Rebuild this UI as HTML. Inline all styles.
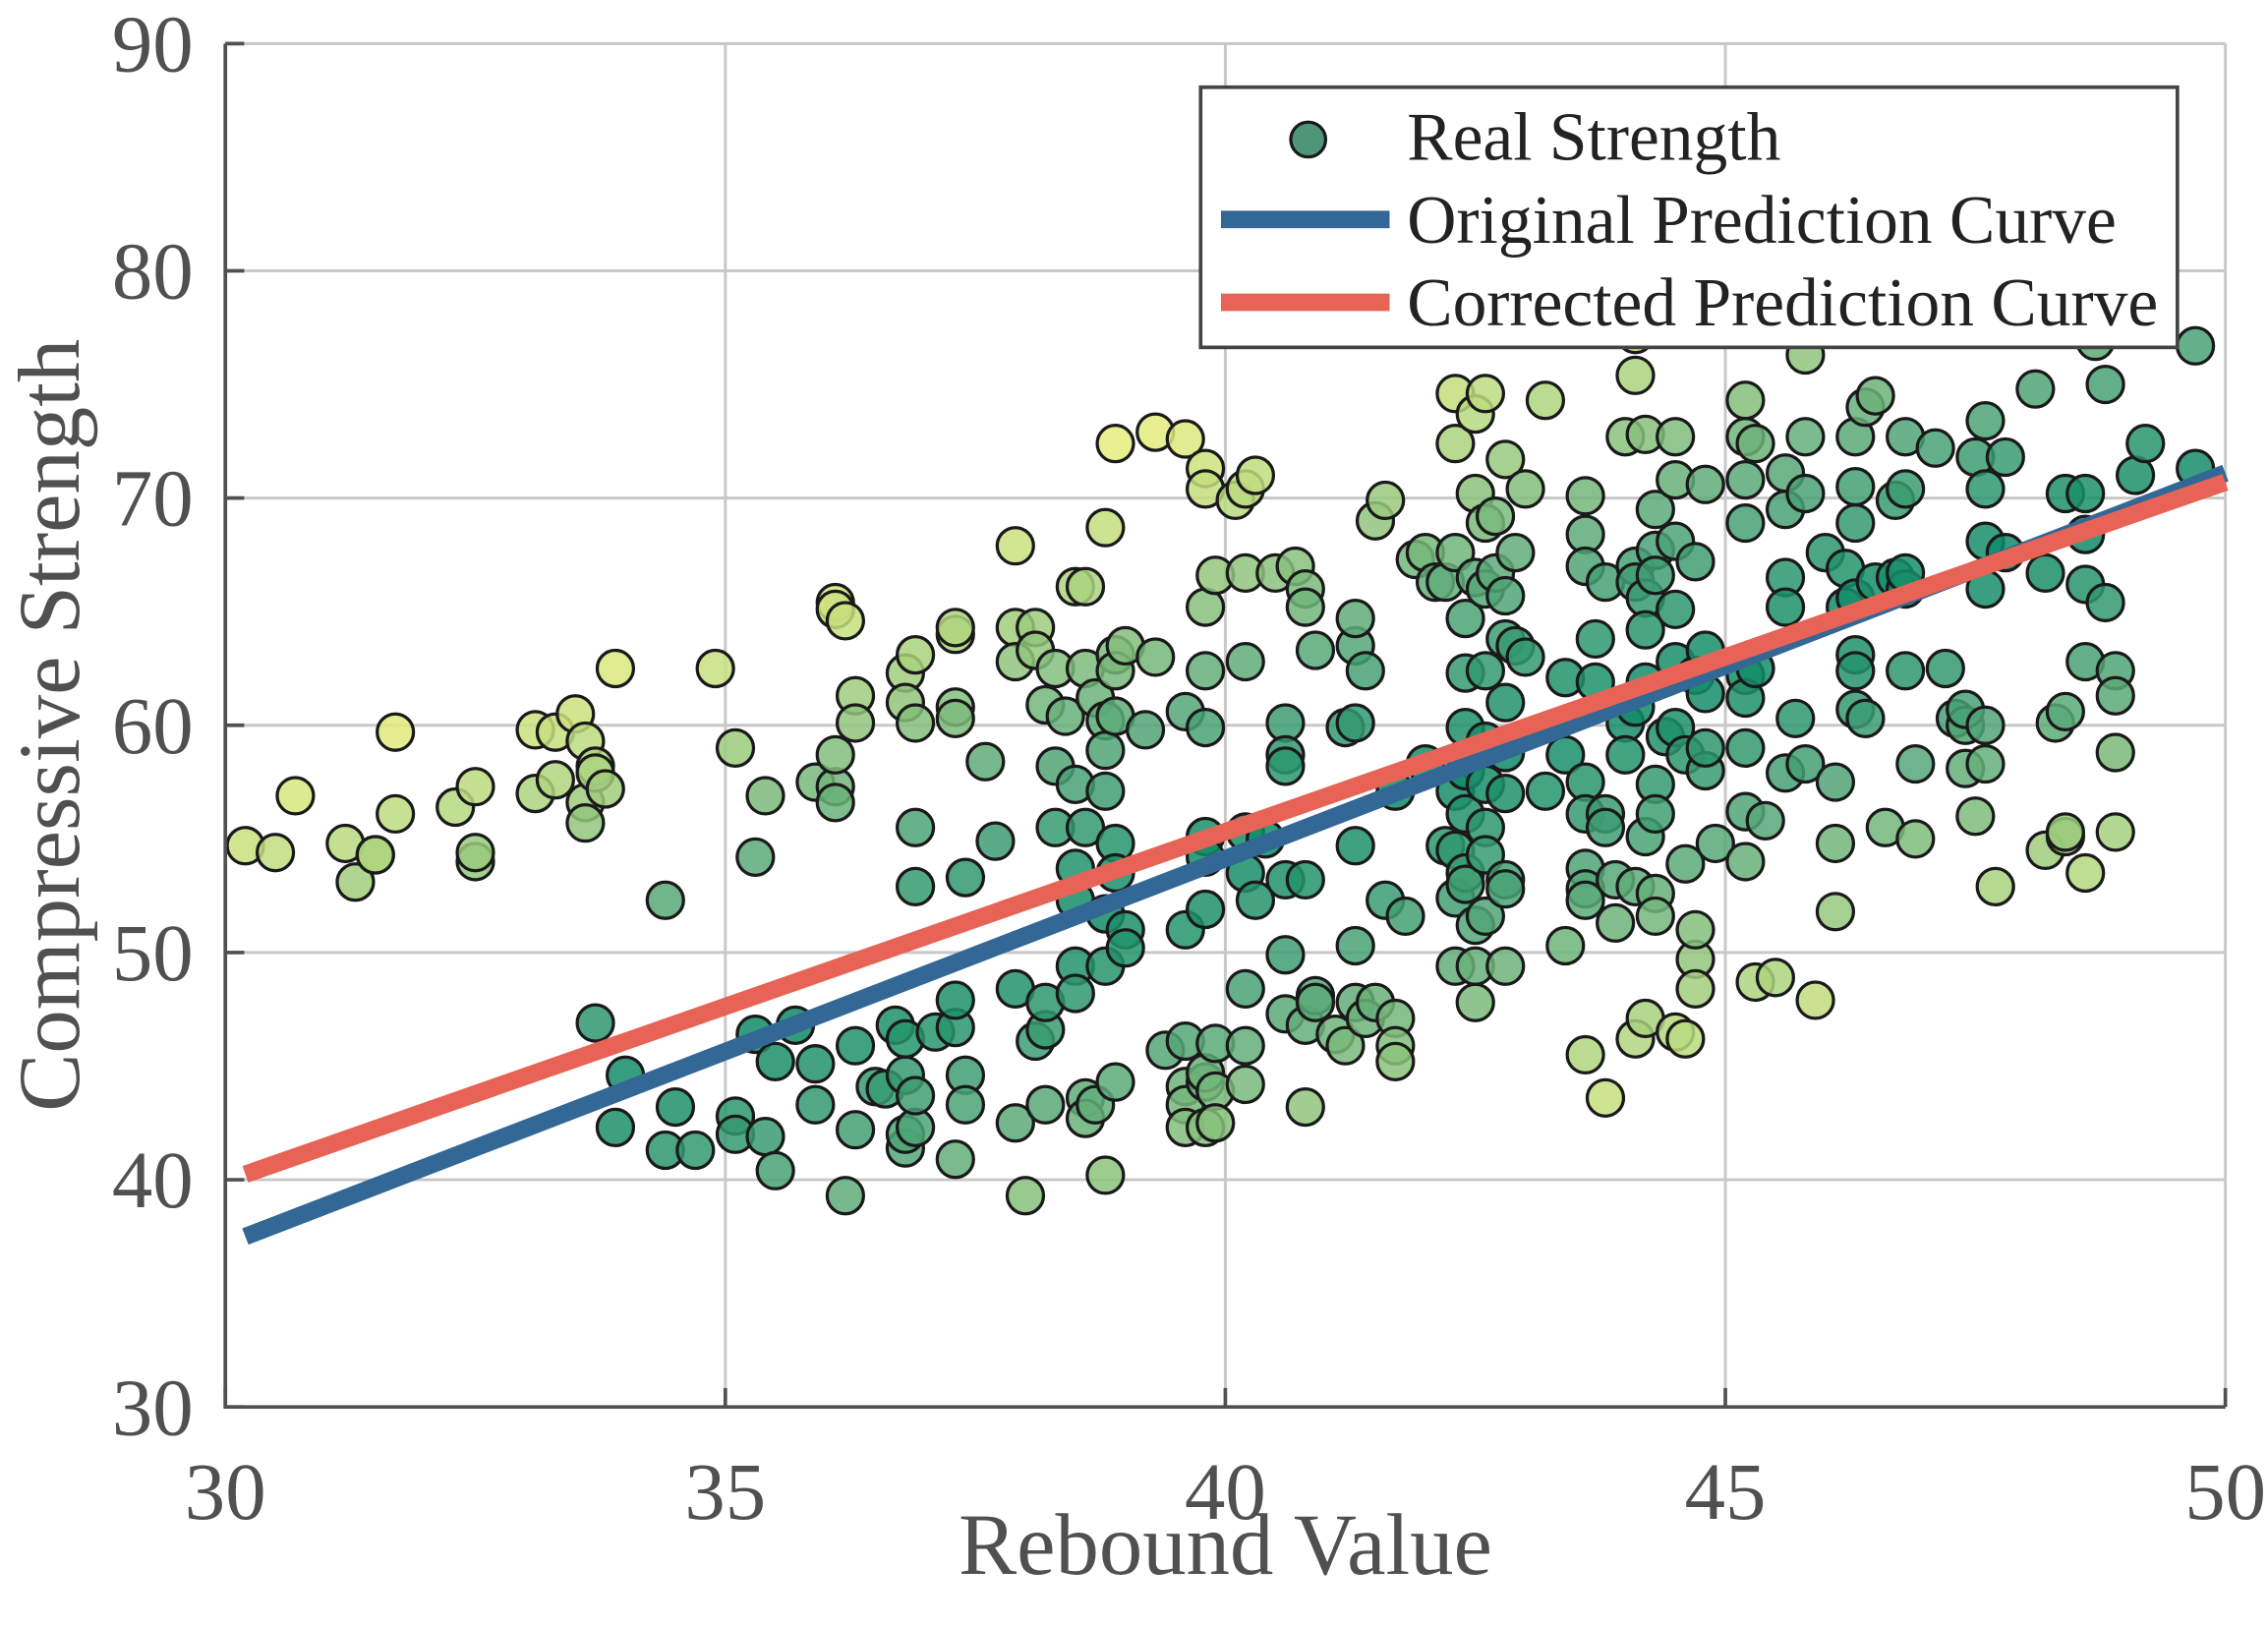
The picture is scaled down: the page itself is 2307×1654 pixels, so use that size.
<!DOCTYPE html>
<html><head><meta charset="utf-8"><style>html,body{margin:0;padding:0;background:#fff}svg{display:block}</style></head>
<body>
<svg id="chart" width="2307" height="1654" viewBox="0 0 1560.3 1118.7" xmlns="http://www.w3.org/2000/svg" font-family="'Liberation Serif', serif">
<g id="grid"></g>
<g id="points"></g>
<g id="lines"></g>
<g id="axes"></g>
<text x="843" y="1083" font-size="60" fill="#505050" text-anchor="middle">Rebound Value</text>
<text x="0" y="0" font-size="60" fill="#505050" text-anchor="middle" transform="translate(54,499) rotate(-90)">Compressive Strength</text>
<g>
<rect x="826" y="60" width="672" height="179" fill="#fff" stroke="#444" stroke-width="2.5"/>
<circle cx="900" cy="96" r="12" fill="#4f9578" stroke="#1a1a1a" stroke-width="2.2"/>
<line x1="840" y1="151" x2="956" y2="151" stroke="#336795" stroke-width="12"/>
<line x1="840" y1="208" x2="956" y2="208" stroke="#e76356" stroke-width="12"/>
<text x="968" y="110" font-size="47" fill="#222">Real Strength</text>
<text x="968" y="167" font-size="47" fill="#222">Original Prediction Curve</text>
<text x="968" y="224" font-size="47" fill="#222">Corrected Prediction Curve</text>
</g>
</svg>
<script>
const xTicks = [30, 35, 40, 45, 50];
const yTicks = [30, 40, 50, 60, 70, 80, 90];
const lineX = [30.2, 50];
const originalY = [37.5, 71.1];
const correctedY = [40.24, 70.7];
const pointX = [30.2,30.5,30.7,31.2,31.3,31.5,31.5,31.7,31.7,32.3,32.5,32.5,32.5,33.1,33.1,33.3,33.3,33.5,33.6,33.6,33.6,33.7,33.7,33.8,33.9,33.7,34.0,33.9,34.4,34.5,34.4,34.7,34.9,35.1,35.3,35.4,35.1,35.1,35.3,35.4,35.5,35.5,35.7,35.9,35.9,35.9,36.1,36.1,36.1,36.1,36.1,36.2,36.2,36.3,36.3,36.3,36.3,36.5,36.6,36.7,36.8,36.8,36.8,36.8,36.9,36.9,36.9,36.9,36.8,36.8,36.9,36.9,37.1,37.3,37.3,37.3,37.3,37.3,37.4,37.3,37.4,37.4,37.3,37.6,37.7,37.9,37.9,37.9,38.1,38.1,37.9,37.9,38.0,38.1,38.2,38.2,38.2,38.2,38.3,38.3,38.3,38.4,38.5,38.6,38.5,38.5,38.5,38.5,38.5,38.6,38.6,38.6,38.6,38.7,38.8,38.7,38.8,38.8,38.8,38.8,38.8,38.8,38.9,38.9,38.9,38.9,38.9,38.9,38.9,39.0,39.0,39.0,39.2,39.3,39.3,39.4,39.6,39.6,39.6,39.6,39.6,39.6,39.6,39.8,39.8,39.8,39.8,39.8,39.8,39.8,39.8,39.8,39.8,39.8,39.9,39.9,39.9,39.9,40.1,40.2,40.3,40.2,40.2,40.2,40.2,40.2,40.2,40.2,40.3,40.4,40.5,40.6,40.6,40.6,40.6,40.6,40.6,40.7,40.8,40.8,40.8,40.8,40.8,40.9,40.9,40.9,41.1,41.2,41.2,41.3,41.3,41.3,41.3,41.3,41.3,41.4,41.4,41.5,41.6,41.5,41.6,41.7,41.7,41.7,41.8,41.7,41.9,42.0,42.0,42.1,42.2,42.2,42.3,42.3,42.3,42.3,42.3,42.3,42.3,42.4,42.4,42.4,42.4,42.4,42.4,42.4,42.5,42.5,42.5,42.5,42.5,42.5,42.6,42.6,42.6,42.6,42.6,42.6,42.6,42.6,42.6,42.7,42.7,42.8,42.8,42.8,42.8,42.8,42.8,42.8,42.8,42.8,42.9,42.9,43.0,43.0,43.2,43.2,43.4,43.4,43.4,43.6,43.6,43.6,43.6,43.6,43.6,43.6,43.6,43.6,43.7,43.7,43.8,43.8,43.8,43.8,43.9,43.9,44.0,44.0,44.0,44.1,44.1,44.1,44.1,44.1,44.1,44.1,44.2,44.2,44.2,44.2,44.2,44.2,44.3,44.3,44.3,44.3,44.3,44.3,44.3,44.4,44.5,44.5,44.5,44.5,44.5,44.5,44.5,44.6,44.6,44.6,44.7,44.7,44.7,44.7,44.7,44.8,44.8,44.8,44.8,44.8,44.9,45.2,45.2,45.2,45.2,45.2,45.2,45.2,45.2,45.2,45.3,45.3,45.3,45.4,45.5,45.6,45.6,45.6,45.6,45.6,45.7,45.8,45.8,45.8,45.8,45.9,46.0,46.1,46.1,46.1,46.2,46.2,46.3,46.3,46.3,46.3,46.3,46.3,46.3,46.4,46.4,46.5,46.5,46.6,46.7,46.7,46.8,46.8,46.8,46.8,46.8,46.9,46.9,47.1,47.2,47.3,47.4,47.4,47.4,47.5,47.5,47.6,47.6,47.6,47.6,47.6,47.6,47.7,47.8,47.8,48.1,48.2,48.2,48.3,48.4,48.4,48.4,48.4,48.6,48.6,48.6,48.6,48.6,48.7,48.8,48.8,48.9,48.9,48.9,48.9,49.1,49.2,49.7,49.7];
const pointY = [54.7,54.4,56.9,54.8,53.1,54.3,54.3,59.7,56.1,56.4,57.3,54.0,54.4,59.8,57.0,57.6,59.7,60.5,59.3,56.6,55.7,58.2,57.9,57.2,62.5,46.9,44.6,42.3,52.3,43.2,41.3,41.3,62.5,59.0,54.2,56.9,42.8,42.0,46.4,41.9,40.4,45.2,46.8,45.1,43.3,57.5,57.3,58.7,56.6,65.4,65.1,64.6,39.3,45.9,42.2,61.3,60.1,44.1,44.0,46.8,46.2,44.6,62.3,61.0,63.1,60.1,55.5,52.9,41.4,42.0,42.3,43.7,46.5,46.7,64.0,64.3,60.8,60.3,53.3,47.9,44.6,43.3,40.9,58.4,54.9,67.9,64.3,62.8,64.3,63.3,48.4,42.5,39.3,46.1,46.6,43.3,47.8,60.9,62.5,58.2,55.5,60.4,66.1,66.1,57.4,53.7,52.3,49.4,48.2,55.5,62.5,43.6,42.7,43.3,68.7,61.2,60.2,58.9,57.1,51.7,49.4,40.2,72.4,63.1,62.4,60.4,54.8,53.5,44.3,63.5,51.0,50.2,59.8,63.0,72.9,45.7,72.6,60.6,51.0,46.1,44.1,43.3,42.3,44.3,65.2,62.4,59.9,55.1,54.2,51.9,44.7,42.3,71.3,70.4,66.6,43.9,42.5,46.0,69.9,70.4,71.0,66.7,62.8,55.3,53.5,48.4,45.9,44.2,52.3,55.0,66.7,49.9,60.1,58.7,58.2,53.2,47.3,67.0,66.0,65.2,53.2,46.8,43.2,63.3,48.1,47.8,46.4,45.9,59.9,63.5,64.7,60.1,54.7,50.3,47.8,47.1,62.4,69.0,69.9,47.8,52.3,47.1,45.9,45.2,51.6,57.1,67.3,67.6,58.3,66.3,54.7,66.3,74.6,72.4,67.6,57.1,54.5,52.4,49.4,64.7,62.3,59.9,58.0,56.1,53.5,53.0,73.7,70.2,66.5,47.8,49.4,51.2,74.6,68.9,66.0,62.4,59.3,57.4,55.5,54.3,51.6,69.2,66.7,71.7,63.8,61.0,58.8,57.0,53.2,52.8,49.4,65.7,63.5,67.6,70.4,63.0,74.3,57.1,62.1,50.3,58.7,70.1,68.4,67.0,57.5,56.1,53.7,52.8,52.3,45.5,63.8,61.9,66.3,56.1,55.5,43.6,51.3,53.2,72.7,60.1,58.7,77.2,67.0,60.8,46.2,75.4,66.3,52.9,47.1,72.8,65.6,64.2,61.9,55.1,52.6,69.5,67.7,66.6,57.4,56.1,51.6,59.5,46.5,72.7,70.8,68.1,65.1,62.8,59.9,58.7,46.2,53.9,49.7,51.0,48.4,67.2,62.2,58.0,70.6,63.3,61.4,59.0,54.8,59.0,74.3,72.7,70.8,68.9,62.2,61.2,56.2,54.0,48.7,72.4,62.5,55.8,48.9,57.9,71.1,69.5,66.5,65.2,60.3,76.3,72.7,70.2,58.3,47.9,67.6,57.5,51.8,54.8,65.2,66.9,68.9,72.7,70.5,65.6,63.1,62.4,60.7,60.3,74.0,66.3,74.5,55.5,66.5,69.9,66.0,70.4,66.7,72.7,62.4,58.3,55.0,72.2,62.5,60.3,60.0,60.7,58.1,56.0,71.8,70.4,73.4,68.1,66.0,60.0,58.3,52.9,67.6,71.8,74.8,54.5,66.7,60.1,55.1,70.2,60.6,55.3,53.5,70.2,68.4,66.2,62.8,76.9,65.4,75.0,58.8,62.4,61.3,55.3,71.0,72.4,76.7,71.3,78.6];

const NS = 'http://www.w3.org/2000/svg';
const L = 155, R = 1531, T = 30, B = 968;
function sx(v){ return L + (v - 30) / 20 * (R - L); }
function sy(v){ return B - (v - 30) / 60 * (B - T); }
function mk(tag, attrs, parent){ const e = document.createElementNS(NS, tag); for (const k in attrs) e.setAttribute(k, attrs[k]); parent.appendChild(e); return e; }

const grid = document.getElementById('grid');
const axes = document.getElementById('axes');
xTicks.forEach(v => {
  if (v !== 30) {
    const g = mk('line', {x1: sx(v), x2: sx(v), y1: T, y2: B, stroke: '#c8c8c8', 'stroke-width': 2}, grid);
    
    
  }
  const t = mk('line', {x1: sx(v), x2: sx(v), y1: B, y2: B - 13, stroke: '#505050', 'stroke-width': 2.5}, axes);
  
  
  const lb = mk('text', {x: sx(v), y: 1045, 'font-size': 56, fill: '#505050', 'text-anchor': 'middle'}, axes);
  lb.textContent = v;
  
  
});
yTicks.forEach(v => {
  if (v !== 30) {
    const g = mk('line', {x1: L, x2: R, y1: sy(v), y2: sy(v), stroke: '#c8c8c8', 'stroke-width': 2}, grid);
    
    
  }
  const t = mk('line', {x1: L, x2: L + 13, y1: sy(v), y2: sy(v), stroke: '#505050', 'stroke-width': 2.5}, axes);
  
  
  const lb = mk('text', {x: 133, y: sy(v) + 19, 'font-size': 56, fill: '#505050', 'text-anchor': 'end'}, axes);
  lb.textContent = v;
  
  
});
const xa = mk('line', {x1: L - 1, x2: R, y1: B, y2: B, stroke: '#505050', 'stroke-width': 2.5}, axes);


const ya = mk('line', {x1: L, x2: L, y1: T, y2: B + 1, stroke: '#505050', 'stroke-width': 2.5}, axes);



function origAt(x){ return originalY[0] + (x - lineX[0]) * (originalY[1] - originalY[0]) / (lineX[1] - lineX[0]); }
const stops = [[0,[13,138,102]],[0.35,[88,168,120]],[0.7,[183,217,127]],[1,[248,244,122]]];
function colorFor(t){
  t = Math.max(0, Math.min(1, t));
  for (let i = 1; i < stops.length; i++) {
    if (t <= stops[i][0]) {
      const a = stops[i-1], b = stops[i], f = (t - a[0]) / (b[0] - a[0]);
      const c = a[1].map((v, k) => Math.round(v + (b[1][k] - v) * f));
      return 'rgb(' + c.join(',') + ')';
    }
  }
  return 'rgb(248,244,122)';
}
const pg = document.getElementById('points');
pointX.forEach((x, i) => {
  const y = pointY[i];
  const t = Math.abs(y - origAt(x)) / 22;
  const c = mk('circle', {cx: sx(x), cy: sy(y), r: 12.5, fill: colorFor(t), 'fill-opacity': 0.85, stroke: '#1a1a1a', 'stroke-width': 2.2}, pg);
  
  
});
const lg = document.getElementById('lines');
const lo = mk('line', {x1: sx(lineX[0]), y1: sy(originalY[0]), x2: sx(lineX[1]), y2: sy(originalY[1]), stroke: '#336795', 'stroke-width': 12}, lg);


const lc = mk('line', {x1: sx(lineX[0]), y1: sy(correctedY[0]), x2: sx(lineX[1]), y2: sy(correctedY[1]), stroke: '#e76356', 'stroke-width': 12}, lg);


</script>
</body></html>
